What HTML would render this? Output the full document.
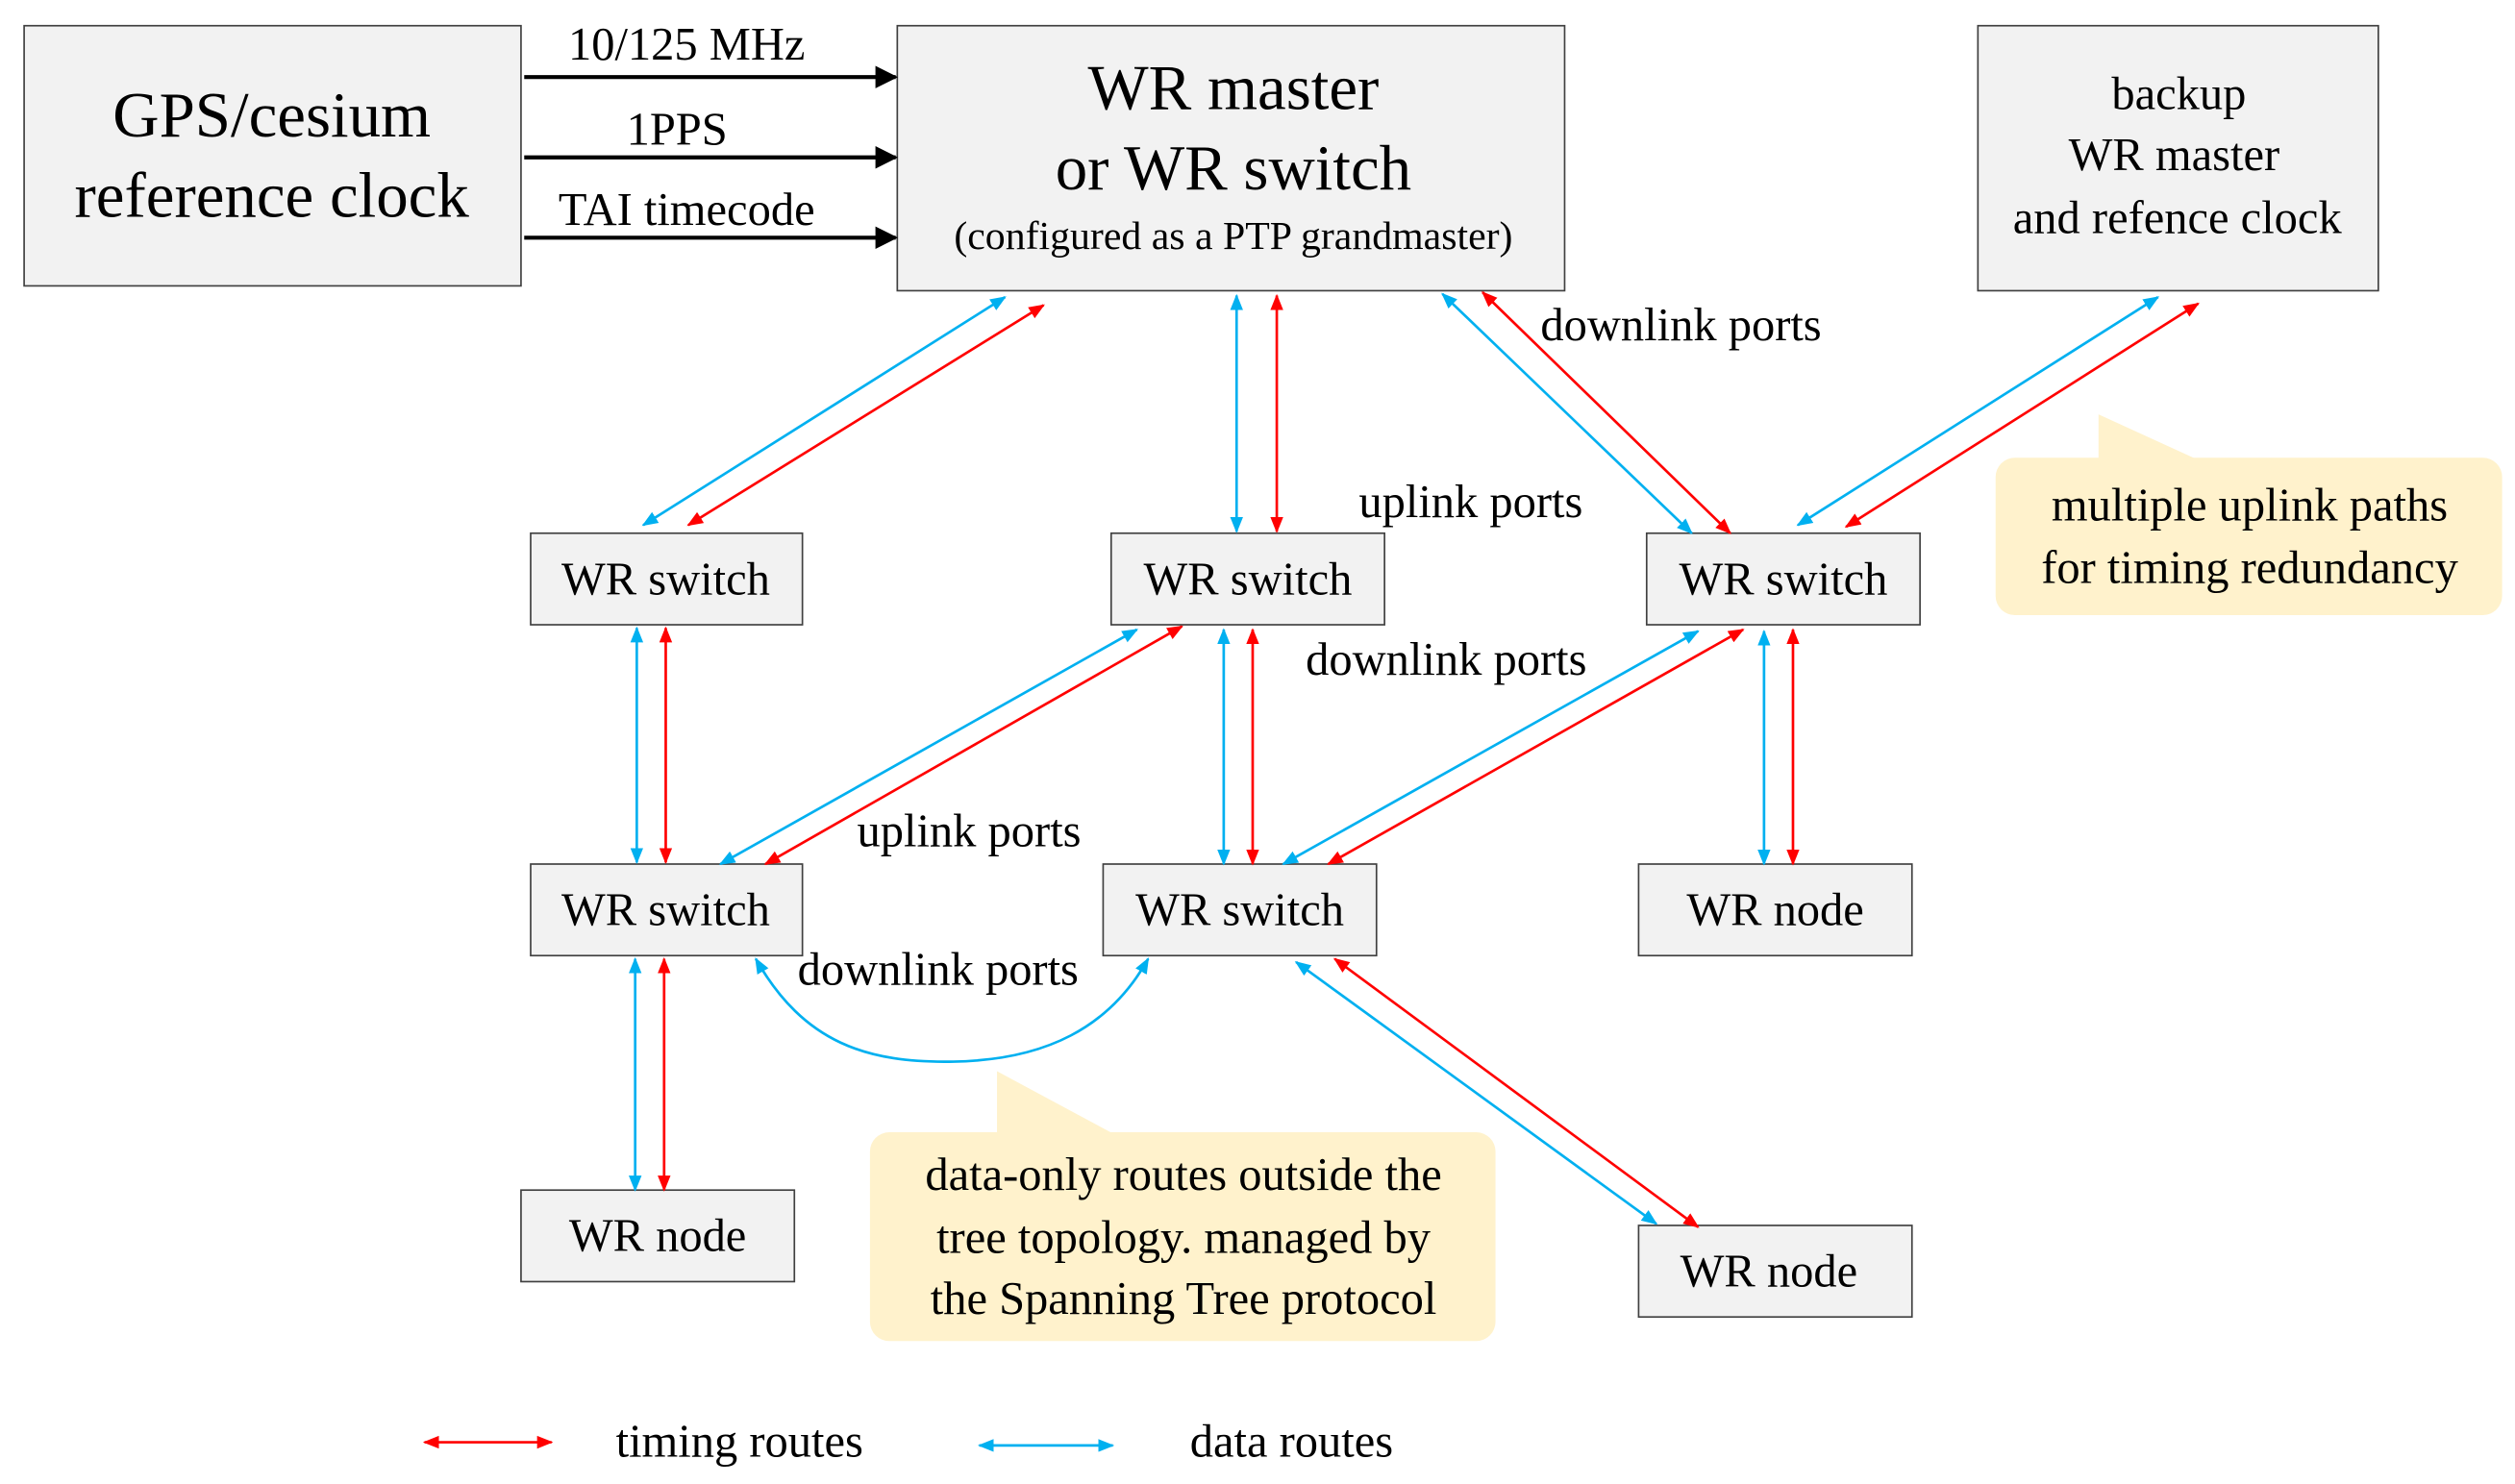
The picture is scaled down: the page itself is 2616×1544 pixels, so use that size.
<!DOCTYPE html>
<html><head><meta charset="utf-8"><style>
html,body{margin:0;padding:0;background:#fff;width:2616px;height:1544px;overflow:hidden}
svg{display:block}
text{font-family:"Liberation Serif","Times New Roman",serif;fill:#000}
</style></head><body>
<svg width="2616" height="1544" viewBox="0 0 1564 924" preserveAspectRatio="none" xmlns="http://www.w3.org/2000/svg">
<defs>
<marker id="r" viewBox="0 0 10 10" refX="9" refY="5" markerWidth="10" markerHeight="10" orient="auto-start-reverse" markerUnits="userSpaceOnUse"><path d="M0,1 L10,5 L0,9 Z" fill="#ff0000"/></marker>
<marker id="b" viewBox="0 0 10 10" refX="9" refY="5" markerWidth="10" markerHeight="10" orient="auto-start-reverse" markerUnits="userSpaceOnUse"><path d="M0,1 L10,5 L0,9 Z" fill="#00b0f0"/></marker>
<marker id="k" viewBox="0 0 10 10" refX="9" refY="5" markerWidth="14" markerHeight="14" orient="auto" markerUnits="userSpaceOnUse"><path d="M0,0 L10,5 L0,10 Z" fill="#000"/></marker>
</defs>
<g fill="#f2f2f2" stroke="#404040" stroke-width="1">
<rect x="15" y="16" width="309" height="162"/>
<rect x="558" y="16" width="415" height="165"/>
<rect x="1230" y="16" width="249" height="165"/>
<rect x="330" y="332" width="169" height="57"/>
<rect x="691" y="332" width="170" height="57"/>
<rect x="1024" y="332" width="170" height="57"/>
<rect x="330" y="538" width="169" height="57"/>
<rect x="686" y="538" width="170" height="57"/>
<rect x="1019" y="538" width="170" height="57"/>
<rect x="324" y="741" width="170" height="57"/>
<rect x="1019" y="763" width="170" height="57"/>
</g>
<g stroke="#000" stroke-width="2.5">
<line x1="326" y1="48" x2="557" y2="48" marker-end="url(#k)"/>
<line x1="326" y1="98" x2="557" y2="98" marker-end="url(#k)"/>
<line x1="326" y1="148" x2="557" y2="148" marker-end="url(#k)"/>
</g>
<g fill="#fff2cc">
<rect x="1241" y="285" width="315" height="98" rx="12"/>
<path d="M1305,258 L1305,290 L1375,290 Z"/>
<rect x="541" y="705" width="389" height="130" rx="12"/>
<path d="M620,667 L620,710 L700,710 Z"/>
</g>
<g stroke="#00b0f0" stroke-width="1.6" fill="none" marker-start="url(#b)" marker-end="url(#b)">
<line x1="625" y1="185" x2="400" y2="327"/>
<line x1="769" y1="184" x2="769" y2="331"/>
<line x1="897" y1="183" x2="1052" y2="332"/>
<line x1="1342" y1="185" x2="1118" y2="327"/>
<line x1="396" y1="391" x2="396" y2="537"/>
<line x1="707" y1="392" x2="448" y2="538"/>
<line x1="761" y1="392" x2="761" y2="538"/>
<line x1="1056" y1="393" x2="798" y2="538"/>
<line x1="1097" y1="393" x2="1097" y2="538"/>
<line x1="395" y1="597" x2="395" y2="741"/>
<line x1="806" y1="599" x2="1030" y2="762"/>
<path d="M470,597 C500,650 540,662 593,661 C650,660 690,640 714,597"/>
<line x1="609" y1="900" x2="692" y2="900"/>
</g>
<g stroke="#ff0000" stroke-width="1.6" fill="none" marker-start="url(#r)" marker-end="url(#r)">
<line x1="649" y1="190" x2="428" y2="327"/>
<line x1="794" y1="184" x2="794" y2="331"/>
<line x1="922" y1="182" x2="1076" y2="332"/>
<line x1="1367" y1="189" x2="1148" y2="328"/>
<line x1="414" y1="391" x2="414" y2="537"/>
<line x1="735" y1="390" x2="476" y2="538"/>
<line x1="779" y1="392" x2="779" y2="538"/>
<line x1="1084" y1="392" x2="826" y2="538"/>
<line x1="1115" y1="392" x2="1115" y2="538"/>
<line x1="413" y1="597" x2="413" y2="741"/>
<line x1="830" y1="597" x2="1056" y2="764"/>
<line x1="264" y1="898" x2="343" y2="898"/>
</g>
<g text-anchor="middle">
<text x="169" y="85" font-size="40">GPS/cesium</text>
<text x="169" y="135" font-size="40">reference clock</text>
<text x="427" y="37" font-size="29">10/125 MHz</text>
<text x="421" y="90" font-size="29">1PPS</text>
<text x="427" y="140" font-size="29">TAI timecode</text>
<text x="767" y="68" font-size="40">WR master</text>
<text x="767" y="118" font-size="40">or WR switch</text>
<text x="767" y="155" font-size="25">(configured as a PTP grandmaster)</text>
<text x="1355" y="68" font-size="29">backup</text>
<text x="1352" y="106" font-size="29">WR master</text>
<text x="1354" y="145" font-size="29">and refence clock</text>
<text x="414" y="370" font-size="29">WR switch</text>
<text x="776" y="370" font-size="29">WR switch</text>
<text x="1109" y="370" font-size="29">WR switch</text>
<text x="414" y="576" font-size="29">WR switch</text>
<text x="771" y="576" font-size="29">WR switch</text>
<text x="1104" y="576" font-size="29">WR node</text>
<text x="409" y="779" font-size="29">WR node</text>
<text x="1100" y="801" font-size="29">WR node</text>
<text x="1399" y="324" font-size="29">multiple uplink paths</text>
<text x="1399" y="363" font-size="29">for timing redundancy</text>
<text x="736" y="741" font-size="29">data-only routes outside the</text>
<text x="736" y="780" font-size="29">tree topology. managed by</text>
<text x="736" y="818" font-size="29">the Spanning Tree protocol</text>
</g>
<g font-size="29">
<text x="958" y="212">downlink ports</text>
<text x="845" y="322">uplink ports</text>
<text x="812" y="420">downlink ports</text>
<text x="533" y="527">uplink ports</text>
<text x="496" y="613">downlink ports</text>
<text x="383" y="907">timing routes</text>
<text x="740" y="907">data routes</text>
</g>
</svg>
</body></html>
